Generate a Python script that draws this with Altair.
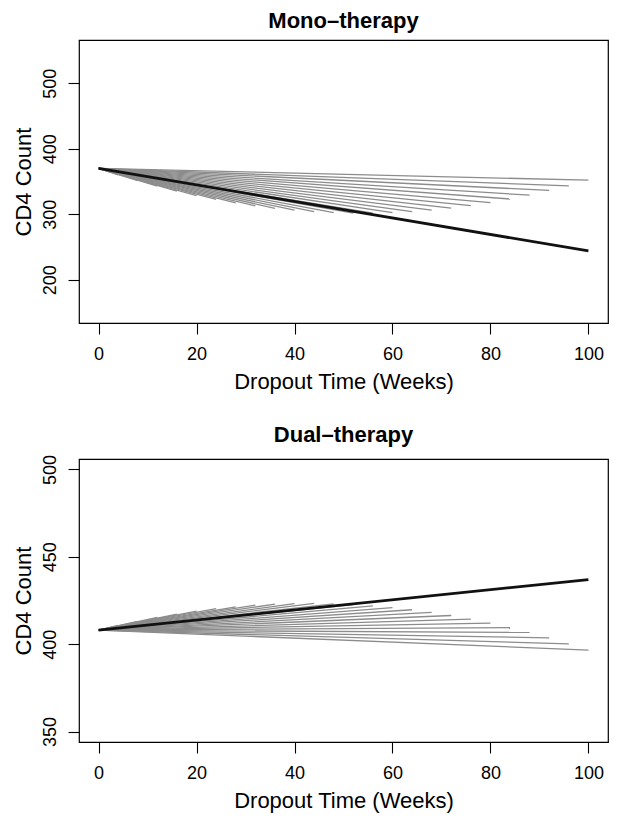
import altair as alt
import pandas as pd

# Dropout times (weeks)
dropout_weeks = [4, 8, 12, 16, 20, 24, 28, 32, 36, 40, 44, 48, 52,
                 56, 60, 64, 68, 72, 76, 80, 84, 88, 92, 96, 100]

# Mono-therapy: fitted CD4 at dropout time for each dropout pattern
mono_start = 370
mono_end = [360.2, 351.2, 343.0, 335.4, 328.6, 322.6, 317.4, 312.9, 309.1,
            306.2, 303.9, 302.5, 301.8, 301.8, 302.5, 304.1, 306.4, 309.4,
            313.3, 317.9, 323.3, 329.2, 336.4, 343.3, 352.0]
mono_avg = [370, 244]   # marginal (black) line at weeks 0 and 100

# Dual-therapy
dual_start = 408
dual_end = [410.7, 413.1, 415.3, 417.2, 418.9, 420.3, 421.4, 422.3, 422.9,
            423.2, 423.3, 423.1, 422.6, 421.9, 420.9, 419.7, 418.2, 416.4,
            414.3, 412.1, 409.5, 406.7, 403.6, 400.2, 396.6]
dual_avg = [408, 437]

x_ticks = [0, 20, 40, 60, 80, 100]
mono_y_ticks = [200, 300, 400, 500]
dual_y_ticks = [350, 400, 450, 500]

FONT = "Liberation Sans"
W, H = 529, 283


def panel(title, start, ends, avg, ydomain, yticks):
    seg = pd.DataFrame({"x": [0] * len(dropout_weeks), "y": [start] * len(dropout_weeks),
                        "x2": dropout_weeks, "y2": ends})
    avg_df = pd.DataFrame({"x": [0], "y": [avg[0]], "x2": [100], "y2": [avg[1]]})
    xs = alt.Scale(domain=[-4, 104], nice=False, zero=False)
    ys = alt.Scale(domain=ydomain, nice=False, zero=False)
    xax = alt.Axis(values=x_ticks, title="Dropout Time (Weeks)", format="d",
                   labelPadding=11, titlePadding=8)
    yax = alt.Axis(values=yticks, title="CD4 Count", format="d",
                   labelAngle=270, labelAlign="center", labelBaseline="bottom",
                   labelPadding=9, titlePadding=6)
    gray = alt.Chart(seg).mark_rule(color="#8c8c8c", strokeWidth=1.3).encode(
        x=alt.X("x:Q", scale=xs, axis=xax),
        y=alt.Y("y:Q", scale=ys, axis=yax),
        x2="x2:Q", y2="y2:Q")
    black = alt.Chart(avg_df).mark_rule(color="#111111", strokeWidth=2.8).encode(
        x=alt.X("x:Q", scale=xs), y=alt.Y("y:Q", scale=ys),
        x2="x2:Q", y2="y2:Q")
    return alt.layer(gray, black).properties(width=W, height=H, title=title)


top = panel("Mono–therapy", mono_start, mono_end, mono_avg, [134, 566], mono_y_ticks)
bottom = panel("Dual–therapy", dual_start, dual_end, dual_avg, [344, 506], dual_y_ticks)

chart = alt.vconcat(top, bottom, spacing=30).resolve_scale(y="independent").configure_view(
    stroke="black", strokeWidth=1.2
).configure_axis(
    grid=False, domain=False, tickColor="black", tickSize=11, tickWidth=1.1,
    labelFont=FONT, labelFontSize=18, labelColor="black",
    titleFont=FONT, titleFontSize=22, titleFontWeight="normal", titleColor="black",
).configure_title(
    font=FONT, fontSize=22, fontWeight="bold", color="black", offset=7, anchor="middle"
).properties(background="white", padding={"left": 3, "top": 1, "right": 5, "bottom": 5})

chart.save("out.html", embed_options={"renderer": "svg", "actions": False})
